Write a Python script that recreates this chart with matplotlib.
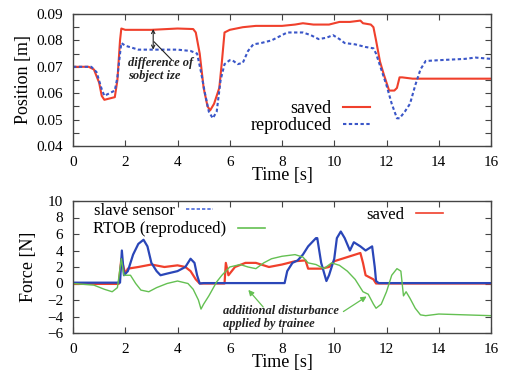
import matplotlib
matplotlib.use("Agg")
import matplotlib.pyplot as plt
from matplotlib.lines import Line2D
from matplotlib.ticker import MultipleLocator

plt.rcParams['font.family'] = ['Liberation Serif', 'DejaVu Serif']

# ---- Position data ----
t_pos_saved = [0, 0.6, 0.8, 1.0, 1.1, 1.2, 1.4, 1.6, 1.7, 1.8, 1.85, 2.0, 3.0, 4.0, 4.6, 4.7,
               4.85, 5.0, 5.15, 5.25, 5.4, 5.6, 5.7, 5.8, 5.9, 6.0, 6.5, 7.0, 8.0, 8.5, 8.8,
               9.2, 9.8, 10.2, 10.6, 11.0, 11.1, 11.4, 11.5, 11.6, 11.75, 11.9, 12.0, 12.1,
               12.3, 12.4, 12.5, 12.6, 13.0, 16.0]
pos_saved = [0.070, 0.070, 0.069, 0.064, 0.059, 0.0575, 0.058, 0.0585, 0.065, 0.080, 0.0845,
             0.084, 0.084, 0.0845, 0.0843, 0.083, 0.075, 0.062, 0.055, 0.0535, 0.056, 0.062,
             0.072, 0.083, 0.0835, 0.084, 0.085, 0.0855, 0.0855, 0.086, 0.0865, 0.086, 0.086,
             0.087, 0.087, 0.0875, 0.0865, 0.086, 0.085, 0.080, 0.072, 0.067, 0.064, 0.061,
             0.061, 0.062, 0.066, 0.066, 0.0655, 0.0655]

t_pos_repr = [0, 0.7, 0.9, 1.1, 1.2, 1.4, 1.6, 1.7, 1.8, 1.85, 2.0, 2.5, 3.0, 4.0, 4.5, 4.75,
              4.9, 5.05, 5.2, 5.35, 5.5, 5.65, 5.8, 6.0, 6.1, 6.3, 6.5, 6.7, 6.9, 7.2, 7.6,
              7.9, 8.2, 8.8, 9.1, 9.4, 9.7, 9.95, 10.2, 10.4, 10.8, 11.2, 11.5, 11.6, 11.8,
              12.0, 12.2, 12.4, 12.5, 12.7, 12.9, 13.1, 13.3, 13.5, 14.0, 15.0, 15.4, 16.0]
pos_repr = [0.070, 0.070, 0.068, 0.0615, 0.059, 0.060, 0.061, 0.066, 0.075, 0.079, 0.078,
            0.0765, 0.0765, 0.0765, 0.076, 0.075, 0.068, 0.060, 0.053, 0.0505, 0.053, 0.065,
            0.071, 0.0725, 0.0725, 0.071, 0.0715, 0.076, 0.0785, 0.079, 0.080, 0.0815, 0.083,
            0.083, 0.082, 0.0805, 0.081, 0.082, 0.0805, 0.079, 0.0785, 0.0775, 0.077, 0.075,
            0.069, 0.063, 0.056, 0.0505, 0.0505, 0.053, 0.056, 0.063, 0.069, 0.0722, 0.0725,
            0.073, 0.0735, 0.073]

# ---- Force data ----
t_f_slave = [0, 1.8, 1.87, 1.95, 2.1, 2.3, 2.5, 2.7, 2.85, 3.0, 3.2, 3.35, 3.6, 4.0, 4.3,
             4.5, 4.65, 4.75, 4.85, 5.0, 8.1, 8.2, 8.4, 8.6, 8.8, 9.0, 9.3, 9.35, 9.5, 9.7,
             9.8, 10.0, 10.1, 10.25, 10.4, 10.6, 10.75, 11.0, 11.2, 11.45, 11.55, 11.6, 11.7, 16.0]
f_slave = [0.1, 0.1, 4.0, 1.0, 1.5, 3.5, 4.8, 5.3, 4.5, 2.5, 1.5, 1.0, 1.2, 1.5, 2.0, 3.0,
           2.5, 1.0, 0.0, 0.05, 0.05, 1.5, 2.5, 2.8, 3.5, 4.5, 5.5, 5.5, 2.5, 0.3, 1.0, 3.0,
           5.5, 6.3, 5.5, 4.0, 5.0, 4.5, 4.0, 4.5, 2.0, 0.3, 0.05, 0.05]

t_f_saved = [0, 1.75, 1.85, 2.0, 2.1, 2.5, 3.0, 3.5, 4.0, 4.3, 4.5, 4.7, 4.85, 5.8, 5.85,
             5.95, 6.2, 6.6, 7.0, 7.5, 8.0, 8.5, 8.9, 9.0, 9.5, 9.8, 10.0, 10.3, 10.6, 11.0,
             11.1, 11.2, 11.5, 11.6, 16.0]
f_saved = [-0.05, -0.05, 3.0, 1.2, 1.8, 2.0, 2.3, 2.0, 2.2, 2.0, 1.5, 0.5, 0.0, 0.0, 2.5,
           1.0, 2.0, 2.5, 2.5, 2.0, 2.3, 2.7, 2.8, 1.8, 1.8, 2.0, 2.7, 3.0, 3.3, 3.7, 2.5,
           1.0, 0.5, 0.0, 0.0]

t_f_rtob = [0, 0.8, 1.2, 1.5, 1.7, 1.85, 1.95, 2.2, 2.4, 2.6, 2.9, 3.2, 3.6, 4.0, 4.4, 4.6,
            4.8, 4.9, 5.0, 5.2, 5.5, 5.7, 6.0, 6.4, 6.7, 7.0, 7.3, 7.6, 8.0, 8.5, 8.8, 9.0,
            9.3, 9.6, 9.9, 10.2, 10.5, 10.8, 11.0, 11.1, 11.3, 11.5, 11.6, 11.8, 12.0, 12.2,
            12.4, 12.55, 12.65, 12.75, 12.9, 13.1, 13.3, 13.5, 14.0, 15.0, 16.0]
f_rtob = [0.0, -0.2, -0.7, -1.0, -0.5, 3.0, 1.0, 1.0, 0.0, -0.8, -1.0, -0.5, 0.0, 0.3, 0.0,
          -0.7, -2.0, -3.1, -2.5, -1.5, 0.2, 1.0, 2.0, 2.3, 2.0, 1.8, 2.5, 3.0, 3.3, 3.5,
          3.2, 2.5, 2.3, 1.8, 2.5, 2.2, 1.5, 0.5, -0.5, -1.0, -1.3, -2.5, -3.0, -2.5, -1.0,
          1.0, 1.8, 1.5, -1.5, -1.0, -1.8, -3.0, -3.8, -3.9, -3.7, -3.8, -3.9]

x_ticks = [0, 2, 4, 6, 8, 10, 12, 14, 16]
pos_ticks = [0.04, 0.05, 0.06, 0.07, 0.08, 0.09]
force_ticks = [-6, -4, -2, 0, 2, 4, 6, 8, 10]

RED = '#F0402C'
BLUE = '#3A56C8'
BLUE_F = '#2A46B8'
GREEN = '#64C052'

fig = plt.figure(figsize=(5.05, 3.81), dpi=100)
ax1 = fig.add_axes([73/505, 1-146/381, 418/505, 132/381])
ax2 = fig.add_axes([73/505, 1-333/381, 418/505, 132/381])

for ax in (ax1, ax2):
    ax.tick_params(direction='in', which='both', top=True, right=True, labelsize=11,
                   length=4, width=0.8, color='#444444', pad=7)
    for s in ax.spines.values():
        s.set_color('#444444')
        s.set_linewidth(1.0)
    ax.set_xlim(0, 16)
    ax.set_xticks(x_ticks)
    ax.set_xlabel('Time [s]', fontsize=13, labelpad=-1)

# Top plot
l_saved, = ax1.plot(t_pos_saved, pos_saved, color=RED, lw=1.5, label='saved')
l_repr, = ax1.plot(t_pos_repr, pos_repr, color=BLUE, lw=1.5, dashes=(1.6, 1.2), label='reproduced')
ax1.set_ylim(0.04, 0.09)
ax1.set_yticks(pos_ticks)
ax1.yaxis.set_minor_locator(MultipleLocator(0.005))
ax1.set_ylabel('Position [m]', fontsize=13, labelpad=3)
ax1.legend(handles=[l_saved, l_repr], loc='center right', bbox_to_anchor=(0.71, 0.216),
           markerfirst=False, frameon=False, fontsize=13, handlelength=1.5,
           handletextpad=0.6, labelspacing=0.0, borderpad=0, borderaxespad=0)

ax1.annotate('', xy=(3.07, 0.0843), xytext=(3.07, 0.0765),
             arrowprops=dict(arrowstyle='<->', color='#222222', lw=0.8, shrinkA=0, shrinkB=0,
                             mutation_scale=6))
ax1.annotate('', xy=(3.1, 0.0795), xytext=(3.78, 0.0726),
             arrowprops=dict(arrowstyle='-', color='#222222', lw=0.8, shrinkA=0, shrinkB=0))
ax1.text(2.1, 0.069, 'difference of\nsobject ize', fontsize=9, fontweight='bold',
         fontstyle='italic', ha='left', va='center', linespacing=1.05, color='#222222')

# Bottom plot
ax2.plot(t_f_saved, f_saved, color=RED, lw=1.6)
ax2.plot(t_f_slave, f_slave, color=BLUE_F, lw=1.6)
ax2.plot(t_f_rtob, f_rtob, color=GREEN, lw=1.0)
ax2.set_ylim(-6, 10)
ax2.set_yticks(force_ticks)
ax2.set_ylabel('Force [N]', fontsize=13, labelpad=7)

h_slave = Line2D([], [], color='#4A6ADC', lw=1.2, dashes=(2, 1.2))
h_rtob = Line2D([], [], color=GREEN, lw=1.2)
h_saved = Line2D([], [], color=RED, lw=1.2)
common = dict(markerfirst=False, frameon=False, fontsize=12, handlelength=1.6,
              handletextpad=0.7, borderpad=0, borderaxespad=0, loc='center right')
lg1 = ax2.legend([h_slave], ['slave sensor'], bbox_to_anchor=(0.335, 0.925), **common)
ax2.add_artist(lg1)
lg2 = ax2.legend([h_rtob], ['RTOB (reproduced)'], bbox_to_anchor=(0.459, 0.785), **common)
ax2.add_artist(lg2)
ax2.legend([h_saved], ['saved'], bbox_to_anchor=(0.885, 0.894), **common)

ax2.text(5.74, -4.1, 'additional disturbance\napplied by trainee', fontsize=9,
         fontweight='bold', fontstyle='italic', ha='left', va='center', linespacing=1.05,
         color='#222222')
ax2.annotate('', xy=(6.71, -0.77), xytext=(7.28, -2.85),
             arrowprops=dict(arrowstyle='-|>', color=GREEN, lw=0.9, shrinkA=0, shrinkB=0,
                             mutation_scale=8))
ax2.annotate('', xy=(11.24, -1.57), xytext=(10.35, -3.4),
             arrowprops=dict(arrowstyle='-|>', color=GREEN, lw=0.9, shrinkA=0, shrinkB=0,
                             mutation_scale=8))

fig.savefig('out.png', dpi=100, facecolor='white')
